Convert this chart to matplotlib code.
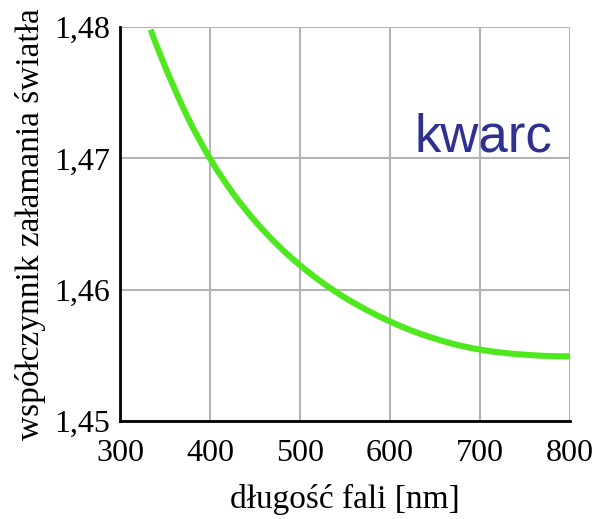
import matplotlib
matplotlib.use("Agg")
import matplotlib.pyplot as plt
from matplotlib.path import Path
from matplotlib.patches import PathPatch

wavelength_nm = [334, 350, 375, 400, 425, 450, 475, 500, 525, 550, 575, 600,
                 625, 650, 675, 700, 725, 750, 775, 800]
refractive_index = [1.47980, 1.47699, 1.47315, 1.46998, 1.46739, 1.46523, 1.46341,
                    1.46186, 1.46053, 1.45939, 1.45842, 1.45758, 1.45686, 1.45627,
                    1.45579, 1.45544, 1.45520, 1.45505, 1.45495, 1.45492]
x_ticks = [300, 400, 500, 600, 700, 800]
x_tick_labels = ["300", "400", "500", "600", "700", "800"]
y_ticks = [1.45, 1.46, 1.47, 1.48]
y_tick_labels = ["1,45", "1,46", "1,47", "1,48"]
material_label = "kwarc"
x_label = "długość fali [nm]"
y_label = "współczynnik załamania światła"

serif = ["Liberation Serif", "DejaVu Serif"]
fig = plt.figure(figsize=(6.10, 5.19), dpi=100)
ax = fig.add_axes([120/610, 1 - 421/519, 450/610, (421 - 27)/519])
ax.set_xlim(300, 800)
ax.set_ylim(1.45, 1.48)

# smooth curve through the read points (Catmull-Rom -> cubic Bezier, in display space)
pts = ax.transData.transform(list(zip(wavelength_nm, refractive_index)))
verts = [tuple(pts[0])]
codes = [Path.MOVETO]
n = len(pts)
for i in range(n - 1):
    p0 = pts[i - 1] if i > 0 else pts[i]
    p1 = pts[i]
    p2 = pts[i + 1]
    p3 = pts[i + 2] if i + 2 < n else pts[i + 1]
    c1 = p1 + (p2 - p0) / 6.0
    c2 = p2 - (p3 - p1) / 6.0
    verts += [tuple(c1), tuple(c2), tuple(p2)]
    codes += [Path.CURVE4] * 3
verts_data = ax.transData.inverted().transform(verts)
patch = PathPatch(Path(verts_data, codes), facecolor="none", edgecolor="#4fe81e",
                  lw=4.4, capstyle="butt", zorder=3, transform=ax.transData)
ax.add_patch(patch)

ax.set_xticks(x_ticks)
ax.set_xticklabels(x_tick_labels, fontfamily=serif, fontsize=23)
ax.set_yticks(y_ticks)
ax.set_yticklabels(y_tick_labels, fontfamily=serif, fontsize=23)
ax.tick_params(length=0)
ax.tick_params(axis="y", pad=7)
ax.tick_params(axis="x", pad=13)

ax.grid(True, color="#b4b4b4", lw=1.5, zorder=1)
for s in ["top", "right"]:
    ax.spines[s].set_visible(False)
for s in ["left", "bottom"]:
    ax.spines[s].set_linewidth(2)
    ax.spines[s].set_color("black")
    ax.spines[s].set_zorder(4)

ax.set_xlabel(x_label, fontfamily=serif, fontsize=24)
ax.set_ylabel(y_label, fontfamily=serif, fontsize=24)
ax.yaxis.set_label_coords(-0.165, 0.5)
ax.xaxis.set_label_coords(0.5, -0.16)

ax.text(627, 1.4705, material_label, fontfamily=["Liberation Sans", "DejaVu Sans"],
        fontsize=38, color="#2e3192", ha="left", va="baseline", zorder=5)

fig.savefig("out.png", dpi=100)
